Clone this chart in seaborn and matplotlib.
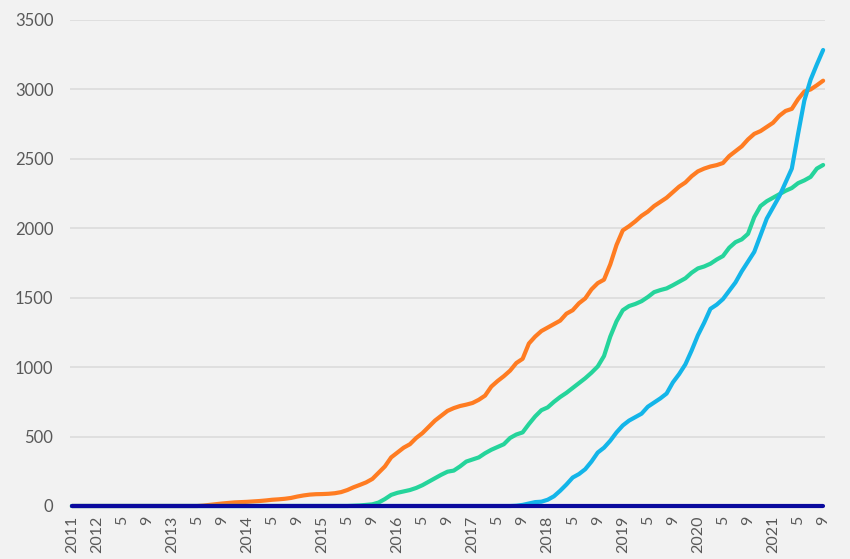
import numpy as np
import pandas as pd
import seaborn as sns
import matplotlib.pyplot as plt

# monthly values, Sep 2011 .. Sep 2021
months = pd.date_range("2011-09-01", "2021-09-01", freq="MS")

orange = [0] * 21 + [3, 8, 13, 18, 22, 26, 28, 30, 33, 36, 40, 45, 48, 52, 58, 68, 76, 82, 85,
                     86, 88, 92, 100, 115, 135, 152, 170, 195, 240, 285, 350, 385, 420, 445, 490,
                     525, 570, 615, 650, 685, 705, 720, 730, 742, 765, 795, 860, 900, 935, 975,
                     1030, 1060, 1170, 1220, 1260, 1285, 1310, 1335, 1385, 1410, 1460, 1495, 1560,
                     1605, 1630, 1740, 1880, 1985, 2015, 2050, 2090, 2120, 2160, 2190, 2220, 2260,
                     2300, 2330, 2375, 2410, 2430, 2445, 2455, 2470, 2520, 2555, 2590, 2640, 2680,
                     2700, 2730, 2760, 2810, 2845, 2860, 2930, 2985, 3000, 3030, 3063]

green = [0] * 45 + [2, 4, 8, 12, 25, 50, 80, 95, 105, 115, 130, 150, 175, 200, 225, 247, 255,
                    285, 320, 335, 350, 380, 405, 425, 445, 490, 515, 530, 590, 645, 690, 710, 750,
                    785, 815, 850, 885, 920, 960, 1005, 1080, 1220, 1330, 1410, 1440, 1455, 1475,
                    1505, 1540, 1555, 1567, 1590, 1615, 1640, 1680, 1711, 1725, 1745, 1775, 1800,
                    1860, 1900, 1920, 1960, 2080, 2160, 2195, 2220, 2245, 2270, 2290, 2325, 2345,
                    2370, 2430, 2456]

cyan = [0] * 71 + [2, 8, 18, 28, 31, 45, 70, 110, 155, 205, 230, 265, 320, 385, 420, 470, 530,
                   580, 615, 640, 665, 715, 745, 775, 810, 890, 950, 1020, 1120, 1230, 1320, 1420,
                   1450, 1490, 1550, 1610, 1690, 1760, 1830, 1950, 2070, 2150, 2230, 2330, 2430,
                   2680, 2920, 3070, 3180, 3284]

navy = [0] * 121

series = {"orange": orange, "green": green, "cyan": cyan, "navy": navy}
colors = {"orange": "#FF7C22", "green": "#25D49B", "cyan": "#13B5E9", "navy": "#0A0A9E"}

# month labels: year in January, else month number every 4 months
tick_labels = []
for i, m in enumerate(months):
    if i == 0 or m.month == 1:
        tick_labels.append(str(m.year))
    else:
        tick_labels.append(str(m.month))

rows = []
for name, vals in series.items():
    for i, v in enumerate(vals):
        rows.append({"idx": i, "value": v, "series": name})
df = pd.DataFrame(rows)

sns.set_style("white")
plt.rcParams['font.family'] = ['Lato', 'DejaVu Sans']

fig = plt.figure(figsize=(8.5, 5.59), dpi=100, facecolor="#F2F2F2")
ax = fig.add_axes([70 / 850, 53 / 559, 755 / 850, 486 / 559])
ax.set_facecolor("#F2F2F2")

sns.lineplot(data=df, x="idx", y="value", hue="series", palette=colors,
             linewidth=3, legend=False, ax=ax, clip_on=False)

ax.set_xlim(-0.3, 120.3)
ax.set_ylim(0, 3500)
ax.set_yticks(np.arange(0, 3501, 500))
ax.yaxis.grid(True, color="#DADADA", linewidth=1.1)
ax.set_axisbelow(True)

major = list(range(0, 121, 4))
ax.set_xticks(major)
ax.set_xticklabels([tick_labels[i] for i in major], rotation=90)
ax.set_xticks(range(0, 121), minor=True)
ax.tick_params(axis="x", which="both", length=5, color="#D0D0D0", width=1,
               labelsize=11.5, labelcolor="#595959", pad=2)
ax.tick_params(axis="y", length=0, labelsize=12, labelcolor="#595959", pad=12)

for s in ax.spines.values():
    s.set_visible(False)
ax.set_xlabel("")
ax.set_ylabel("")

fig.savefig("out.png", dpi=100, facecolor=fig.get_facecolor())
